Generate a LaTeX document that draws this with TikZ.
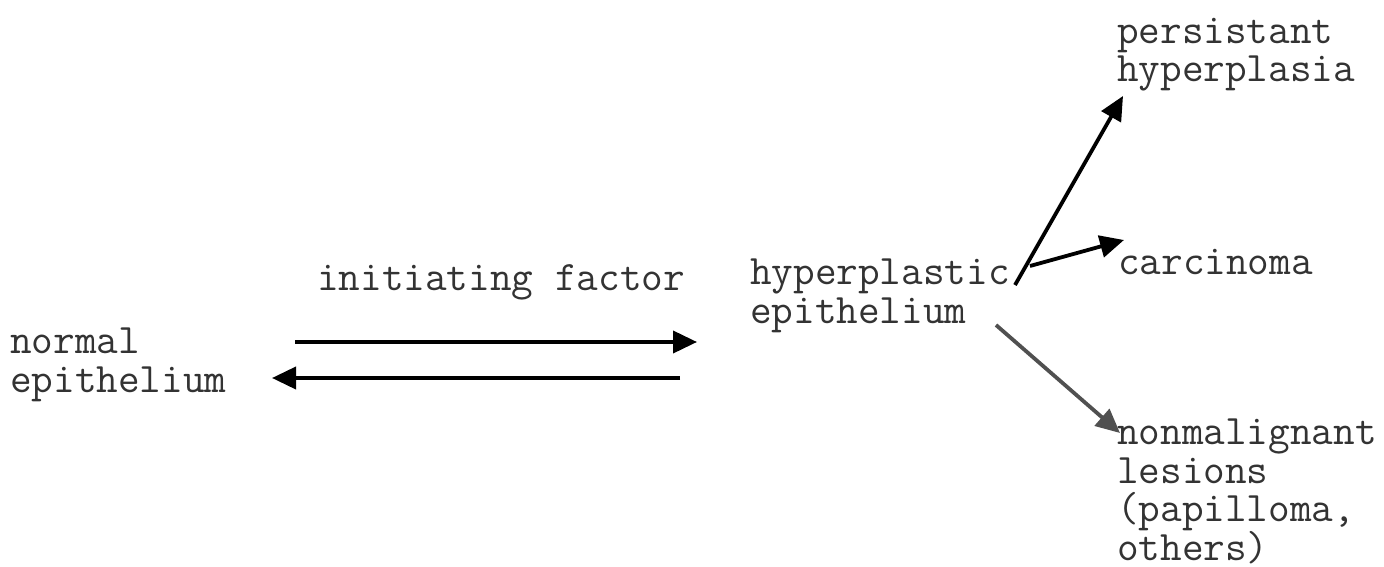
\documentclass[tikz,border=0pt]{standalone}
\usetikzlibrary{arrows.meta}
\definecolor{ink}{HTML}{333333}
\definecolor{greyarrow}{HTML}{505050}
\begin{document}
\begin{tikzpicture}[x=1pt,y=-1pt,
  lbl/.style={inner sep=0pt, anchor=base west, align=left, text=ink,
    font=\fontsize{42}{38.5}\selectfont\ttfamily},
  arr/.style={line width=3.8pt, -{Triangle[length=24pt,width=22pt]}},
]
\useasboundingbox (0,0) rectangle (1384,567);
\node[lbl] (normal) at (10,392) {normal\\epithelium};
\node[lbl] (factor) at (317,290) {initiating factor};
\node[lbl] (hyper) at (750,323) {hyperplastic\\epithelium};
\node[lbl] (persist) at (1117,82) {persistant\\hyperplasia};
\node[lbl] (carc) at (1118,274) {carcinoma};
\node[lbl] (nonmal) at (1117,560) {nonmalignant\\lesions\\(papilloma,\\others)};
\coordinate (u1) at (295,342);
\coordinate (u2) at (697,342);
\coordinate (l1) at (680,378);
\coordinate (l2) at (272,378);
\coordinate (p1) at (1015,285);
\coordinate (p2) at (1123,96);
\coordinate (c1) at (1030,266);
\coordinate (c2) at (1124,240);
\coordinate (n1) at (996,325);
\coordinate (n2) at (1120,433);
\draw[arr] (u1) -- (u2);
\draw[arr] (l1) -- (l2);
\draw[arr] (p1) -- (p2);
\draw[arr] (c1) -- (c2);
\draw[arr, greyarrow] (n1) -- (n2);
\end{tikzpicture}
\end{document}
